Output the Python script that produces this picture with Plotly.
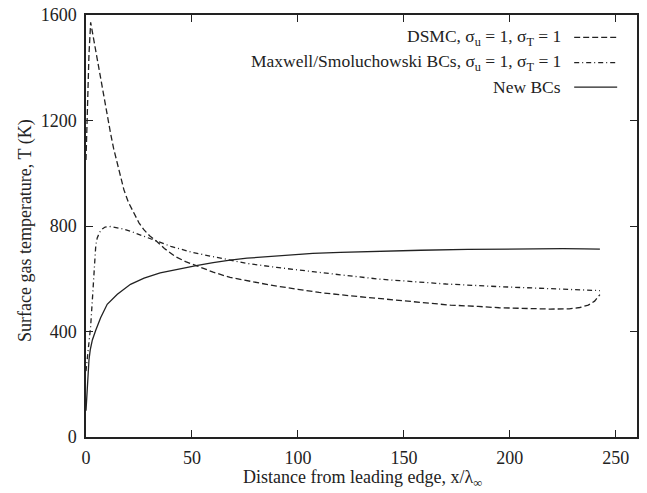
import plotly.graph_objects as go

# ---- data ----
x_dsmc = [0, 0.7, 1.4, 2.2, 3, 4, 5.3, 7, 8.5, 10, 11.6, 13, 14.8, 16.5, 17.9,
          20, 22.6, 25, 27.4, 30, 32.9, 37, 42, 47, 52, 60, 68, 76, 87, 100,
          110, 125, 140, 150, 160, 172, 185, 195, 205, 219, 228, 233, 237, 240,
          242.5]
T_dsmc = [1050, 1250, 1450, 1572, 1535, 1485, 1430, 1355, 1290, 1222, 1151,
          1095, 1038, 985, 937, 890, 848, 812, 785, 763, 745, 715, 685, 665,
          650, 625, 605, 592, 576, 560, 548, 535, 523, 516, 508, 500, 495, 490,
          488, 485, 486, 491, 500, 515, 540]

x_max = [0, 0.5, 1, 1.5, 2.2, 3, 3.8, 4.6, 5.3, 6.5, 7.7, 9, 11.6, 14, 17.9,
         21, 25.8, 30, 33.3, 40, 50, 60, 68, 76, 90, 101, 107, 120, 139, 148,
         158, 170, 195, 220, 242.5]
T_max = [250, 290, 330, 370, 420, 520, 640, 725, 755, 777, 789, 796, 798, 795,
         788, 780, 766, 755, 745, 723, 700, 683, 671, 658, 643, 631, 627, 615,
         598, 593, 586, 580, 570, 562, 555]

x_new = [0, 0.3, 0.8, 1.4, 2, 3, 4.6, 6.9, 10, 14.8, 21, 27.4, 35, 45, 52, 60,
         68, 76, 90, 101, 107, 120, 139, 158, 180, 200, 211, 225, 235, 242.5]
T_new = [100, 150, 230, 292, 330, 368, 405, 452, 503, 541, 579, 602, 622, 640,
         650, 661, 671, 678, 686, 692, 696, 700, 705, 708, 711, 713, 714, 714,
         713, 712]

series_names = ["DSMC, σ<sub>u</sub> = 1, σ<sub>T</sub> = 1",
                "Maxwell/Smoluchowski BCs, σ<sub>u</sub> = 1, σ<sub>T</sub> = 1",
                "New BCs"]
x_ticks = [0, 50, 100, 150, 200, 250]
y_ticks = [0, 400, 800, 1200, 1600]
x_title = "Distance from leading edge, x/λ<sub>∞</sub>"
y_title = "Surface gas temperature, T (K)"

FONT = "Liberation Serif"
INK = "#222222"
dashes = ["6px,3px", "5px,3px,1px,3px", "solid"]

fig = go.Figure()
for xs, ys, nm, ds in zip([x_dsmc, x_max, x_new], [T_dsmc, T_max, T_new],
                          series_names, dashes):
    fig.add_trace(go.Scatter(x=xs, y=ys, mode="lines", name=nm,
                             line=dict(color=INK, width=1.3, dash=ds),
                             showlegend=False))

# manual legend: text right-aligned, sample line to the right
leg_y = [0.947, 0.887, 0.829]
for nm, ds, yy in zip(series_names, dashes, leg_y):
    fig.add_annotation(x=0.866, y=yy, xref="paper", yref="paper",
                       text=nm, showarrow=False, xanchor="right",
                       yanchor="middle", font=dict(family=FONT, size=17.5, color=INK))
    fig.add_shape(type="line", xref="paper", yref="paper",
                  x0=0.886, x1=0.964, y0=yy, y1=yy,
                  line=dict(color=INK, width=1.3, dash=ds))

# axis titles as annotations
fig.add_annotation(x=0.501, y=-0.099, xref="paper", yref="paper", text=x_title,
                   showarrow=False, xanchor="center", yanchor="middle",
                   font=dict(family=FONT, size=18, color=INK))
fig.add_annotation(x=-0.111, y=0.49, xref="paper", yref="paper", text=y_title,
                   showarrow=False, xanchor="center", yanchor="middle",
                   textangle=-90, font=dict(family=FONT, size=18, color=INK))

axis_common = dict(showline=True, linecolor=INK, linewidth=1.5, mirror="ticks",
                   ticks="inside", ticklen=7, tickcolor=INK, tickwidth=1.2,
                   showgrid=False, zeroline=False, automargin=False,
                   tickfont=dict(family=FONT, size=18, color=INK))

fig.update_xaxes(range=[0, 260], tickvals=x_ticks, ticklabelstandoff=4,
                 **axis_common)
fig.update_yaxes(range=[0, 1600], tickvals=y_ticks, ticklabelstandoff=4,
                 **axis_common)

fig.update_layout(width=647, height=493,
                  margin=dict(l=86, r=10, t=15, b=56),
                  paper_bgcolor="white", plot_bgcolor="white",
                  font=dict(family=FONT, size=18, color=INK))

fig.write_html("out.html", config={"displayModeBar": False},
               post_script="document.body.style.margin='0';")
